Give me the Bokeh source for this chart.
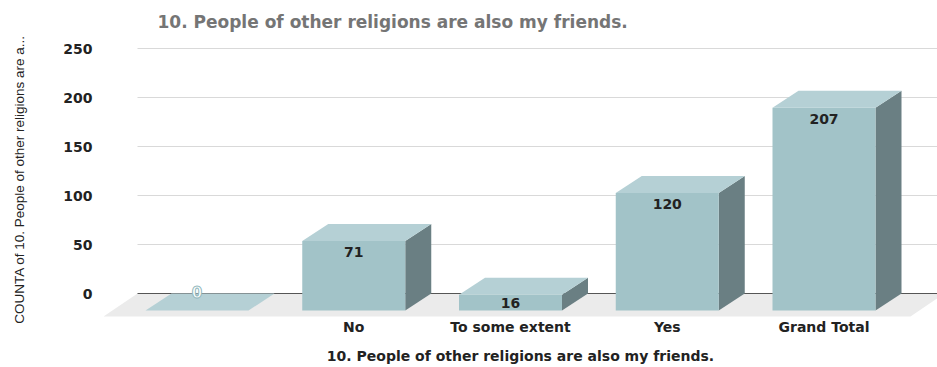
from bokeh.plotting import figure
from bokeh.models import FixedTicker, Range1d
from bokeh.core.properties import value
from bokeh.embed import file_html
from bokeh.resources import INLINE

# ---------------- data ----------------
categories = ["", "No", "To some extent", "Yes", "Grand Total"]
counts = [0, 71, 16, 120, 207]
y_ticks = [0, 50, 100, 150, 200, 250]
title_text = "10. People of other religions are also my friends."
x_title = "10. People of other religions are also my friends."
y_title = "COUNTA of 10. People of other religions are a..."

# ---------------- layout / style constants ----------------
W, H = 937, 367
FL, FR, FT, FB = 103, 937, 40, 318          # frame edges in px
PX_PER_CAT = 156.75
PX_PER_UNIT = 0.98
ZERO_PX = 293
CENTER0_PX = 196.5

x_start = (FL - CENTER0_PX) / PX_PER_CAT
x_end = (FR - CENTER0_PX) / PX_PER_CAT
y_end = (ZERO_PX - FT) / PX_PER_UNIT
y_start = (ZERO_PX - FB) / PX_PER_UNIT

half = 51.5 / PX_PER_CAT        # half bar width
dx = 26 / PX_PER_CAT            # 3D depth (x)
dy = 17 / PX_PER_UNIT           # 3D depth (y)
floor_front = 23 / PX_PER_UNIT
floor_dx = 34 / PX_PER_CAT
floor_right = (910 - CENTER0_PX) / PX_PER_CAT

FRONT = "#a2c3c8"
TOP = "#b5d0d5"
SIDE = "#6a7f83"
FLOOR = "#ebebeb"
BOLD_FONT = "DejaVu Sans"

p = figure(width=W, height=H, output_backend="svg", toolbar_location=None,
           x_range=Range1d(x_start, x_end), y_range=Range1d(y_start, y_end),
           min_border_left=FL, min_border_right=W - FR,
           min_border_top=FT, min_border_bottom=H - FB,
           background_fill_color="white", border_fill_color="white")
p.outline_line_color = None
p.grid.visible = False

# floor
p.patch([x_start, floor_right, floor_right + floor_dx, x_start + floor_dx],
        [-floor_front, -floor_front, 0, 0],
        fill_color=FLOOR, line_color=None)

# gridlines (back wall)
gx0 = x_start + floor_dx
p.segment(x0=[gx0] * (len(y_ticks) - 1), y0=y_ticks[1:],
          x1=[x_end] * (len(y_ticks) - 1), y1=y_ticks[1:],
          line_color="#d9d9d9", line_width=1)
p.segment(x0=[gx0], y0=[y_ticks[0]], x1=[x_end], y1=[y_ticks[0]],
          line_color="#555555", line_width=1)

# 3D bars
fx, fy, tx, ty, sx, sy = [], [], [], [], [], []
for i, v in enumerate(counts):
    fx.append([i - half, i + half, i + half, i - half])
    fy.append([-dy, -dy, v - dy, v - dy])
    tx.append([i - half, i + half, i + half + dx, i - half + dx])
    ty.append([v - dy, v - dy, v, v])
    sx.append([i + half, i + half + dx, i + half + dx, i + half])
    sy.append([-dy, 0, v, v - dy])
p.patches(sx, sy, fill_color=SIDE, line_color=None)
p.patches(fx, fy, fill_color=FRONT, line_color=None)
p.patches(tx, ty, fill_color=TOP, line_color=None)

# data labels
lab_x, lab_y, lab_t = [], [], []
zx, zy, zt = [], [], []
for i, v in enumerate(counts):
    if v == 0:
        zx.append(i); zy.append(v); zt.append(str(v))
    else:
        lab_x.append(i)
        lab_y.append(max(v - dy - 11 / PX_PER_UNIT, v / 2 - dy))
        lab_t.append(str(v))
p.text(x=lab_x, y=lab_y, text=lab_t, text_font=value(BOLD_FONT),
       text_font_style="bold", text_font_size="14px", text_color="#222222",
       text_align="center", text_baseline="middle")
p.text(x=zx, y=zy, text=zt, text_font=value(BOLD_FONT),
       text_font_style="bold", text_font_size="15px", text_color="white",
       text_outline_color="#8fb6bc",
       text_align="center", text_baseline="middle", y_offset=-2)

# axes
xa = p.xaxis[0]
xa.ticker = FixedTicker(ticks=list(range(len(categories))))
xa.major_label_overrides = {i: c for i, c in enumerate(categories)}
xa.axis_line_color = None
xa.major_tick_line_color = None
xa.minor_tick_line_color = None
xa.major_tick_in = 0
xa.major_tick_out = 0
xa.major_label_standoff = 0
xa.major_label_text_font = BOLD_FONT
xa.major_label_text_font_style = "bold"
xa.major_label_text_font_size = "14px"
xa.major_label_text_color = "#222222"
xa.axis_label = x_title
xa.axis_label_standoff = 10
xa.axis_label_text_font = BOLD_FONT
xa.axis_label_text_font_style = "bold"
xa.axis_label_text_font_size = "14px"
xa.axis_label_text_color = "#222222"

ya = p.yaxis[0]
ya.ticker = FixedTicker(ticks=y_ticks)
ya.axis_line_color = None
ya.major_tick_line_color = None
ya.minor_tick_line_color = None
ya.major_tick_in = 0
ya.major_tick_out = 0
ya.major_label_standoff = 11
ya.major_label_text_font = BOLD_FONT
ya.major_label_text_font_style = "bold"
ya.major_label_text_font_size = "14px"
ya.major_label_text_color = "#222222"
ya.axis_label = y_title
ya.axis_label_standoff = 33
ya.axis_label_text_font = "Liberation Sans"
ya.axis_label_text_font_style = "normal"
ya.axis_label_text_font_size = "13.5px"
ya.axis_label_text_color = "#222222"

p.title.text = title_text
p.title.align = "left"
p.title.vertical_align = "top"
p.title.offset = 54
p.title.standoff = 14
p.title.text_font = BOLD_FONT
p.title.text_font_style = "bold"
p.title.text_font_size = "17px"
p.title.text_color = "#757575"

open("out.html", "w").write(file_html(p, INLINE))
